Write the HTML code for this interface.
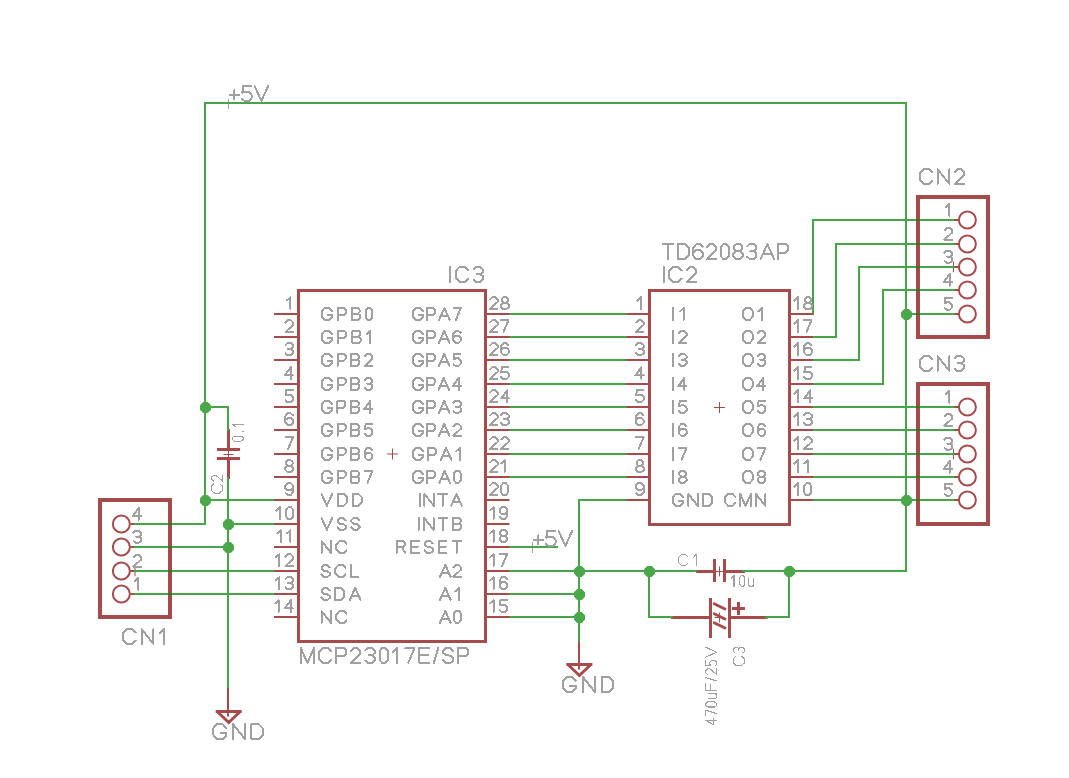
<!DOCTYPE html>
<html><head><meta charset="utf-8"><style>
html,body{margin:0;padding:0;background:#fff;overflow:hidden;}
svg{display:block;font-family:"Liberation Sans",sans-serif;}
</style></head><body>
<svg width="1069" height="778" viewBox="0 0 1069 778">
<rect width="1069" height="778" fill="#fff"/>
<rect x="298.5" y="290.5" width="187.0" height="351.0" fill="none" stroke="#a54b4b" stroke-width="3"/>
<rect x="649.5" y="290.5" width="140.0" height="234.0" fill="none" stroke="#a54b4b" stroke-width="3"/>
<path d="M387.0 454H398.0M392.5 448.5V459.5" stroke="#a54b4b" stroke-width="1" fill="none"/>
<path d="M714.0 407.5H725.0M719.5 402.0V413.0" stroke="#a54b4b" stroke-width="1" fill="none"/>
<rect x="100" y="500" width="70" height="117" fill="none" stroke="#a54b4b" stroke-width="4"/>
<circle cx="121.35" cy="524" r="8.5" fill="none" stroke="#a54b4b" stroke-width="2"/>
<rect x="130.5" y="523" width="4.5" height="2" fill="#a54b4b"/>
<circle cx="121.35" cy="547" r="8.5" fill="none" stroke="#a54b4b" stroke-width="2"/>
<rect x="130.5" y="546" width="4.5" height="2" fill="#a54b4b"/>
<circle cx="121.35" cy="571" r="8.5" fill="none" stroke="#a54b4b" stroke-width="2"/>
<rect x="130.5" y="570" width="4.5" height="2" fill="#a54b4b"/>
<circle cx="121.35" cy="594" r="8.5" fill="none" stroke="#a54b4b" stroke-width="2"/>
<rect x="130.5" y="593" width="4.5" height="2" fill="#a54b4b"/>
<rect x="918" y="197" width="70" height="140" fill="none" stroke="#a54b4b" stroke-width="4"/>
<circle cx="967.4" cy="220" r="8.5" fill="none" stroke="#a54b4b" stroke-width="2"/>
<rect x="953.5" y="219" width="5" height="2" fill="#a54b4b"/>
<circle cx="967.4" cy="244" r="8.5" fill="none" stroke="#a54b4b" stroke-width="2"/>
<rect x="953.5" y="243" width="5" height="2" fill="#a54b4b"/>
<circle cx="967.4" cy="267" r="8.5" fill="none" stroke="#a54b4b" stroke-width="2"/>
<rect x="953.5" y="266" width="5" height="2" fill="#a54b4b"/>
<circle cx="967.4" cy="290" r="8.5" fill="none" stroke="#a54b4b" stroke-width="2"/>
<rect x="953.5" y="289" width="5" height="2" fill="#a54b4b"/>
<circle cx="967.4" cy="314" r="8.5" fill="none" stroke="#a54b4b" stroke-width="2"/>
<rect x="953.5" y="313" width="5" height="2" fill="#a54b4b"/>
<rect x="918" y="384" width="70" height="140" fill="none" stroke="#a54b4b" stroke-width="4"/>
<circle cx="967.4" cy="407" r="8.5" fill="none" stroke="#a54b4b" stroke-width="2"/>
<rect x="953.5" y="406" width="5" height="2" fill="#a54b4b"/>
<circle cx="967.4" cy="430" r="8.5" fill="none" stroke="#a54b4b" stroke-width="2"/>
<rect x="953.5" y="429" width="5" height="2" fill="#a54b4b"/>
<circle cx="967.4" cy="454" r="8.5" fill="none" stroke="#a54b4b" stroke-width="2"/>
<rect x="953.5" y="453" width="5" height="2" fill="#a54b4b"/>
<circle cx="967.4" cy="477" r="8.5" fill="none" stroke="#a54b4b" stroke-width="2"/>
<rect x="953.5" y="476" width="5" height="2" fill="#a54b4b"/>
<circle cx="967.4" cy="500" r="8.5" fill="none" stroke="#a54b4b" stroke-width="2"/>
<rect x="953.5" y="499" width="5" height="2" fill="#a54b4b"/>
<path d="M129.75 571H140.25M135 565.75V576.25" stroke="#a54b4b" stroke-width="1" fill="none"/>
<path d="M948.25 267H958.75M953.5 261.75V272.25" stroke="#a54b4b" stroke-width="1" fill="none"/>
<path d="M948.25 454H958.75M953.5 448.75V459.25" stroke="#a54b4b" stroke-width="1" fill="none"/>
<rect x="227" y="429" width="3" height="19" fill="#a54b4b"/>
<rect x="227" y="459" width="3" height="20" fill="#a54b4b"/>
<rect x="217" y="448" width="23" height="3" fill="#a54b4b"/>
<rect x="217" y="457" width="23" height="3" fill="#a54b4b"/>
<path d="M223.5 454.5H233.5M228.5 449.5V459.5" stroke="#a54b4b" stroke-width="1" fill="none"/>
<rect x="696" y="570" width="18" height="3" fill="#a54b4b"/>
<rect x="725" y="570" width="20" height="3" fill="#a54b4b"/>
<rect x="713" y="559" width="3" height="23" fill="#a54b4b"/>
<rect x="723" y="559" width="3" height="23" fill="#a54b4b"/>
<path d="M714.5 571.5H724.5M719.5 566.5V576.5" stroke="#a54b4b" stroke-width="1" fill="none"/>
<rect x="671" y="616" width="39" height="3" fill="#a54b4b"/>
<rect x="729" y="616" width="38.5" height="3" fill="#a54b4b"/>
<rect x="709" y="598" width="3" height="40" fill="#a54b4b"/>
<rect x="728" y="598" width="3" height="40" fill="#a54b4b"/>
<line x1="714.2" y1="603.7" x2="725" y2="609" stroke="#a54b4b" stroke-width="2.8" stroke-linecap="round"/>
<line x1="714.2" y1="613.7" x2="725" y2="619" stroke="#a54b4b" stroke-width="2.8" stroke-linecap="round"/>
<line x1="714.2" y1="622.7" x2="725" y2="628" stroke="#a54b4b" stroke-width="2.8" stroke-linecap="round"/>
<rect x="732" y="607" width="13" height="3" fill="#a54b4b"/>
<rect x="737" y="602" width="3" height="13" fill="#a54b4b"/>
<path d="M714.5 617.5H724.5M719.5 612.5V622.5" stroke="#a54b4b" stroke-width="1" fill="none"/>
<rect x="227" y="687" width="2" height="29.5" fill="#a54b4b"/>
<rect x="215.7" y="710" width="26" height="3" fill="#a54b4b"/>
<path d="M217.2 711.5L228.7 722.5L240.2 711.5" fill="none" stroke="#a54b4b" stroke-width="3" stroke-linejoin="miter" stroke-linecap="butt"/>
<rect x="578" y="641" width="2" height="28.5" fill="#a54b4b"/>
<rect x="566.4" y="663" width="26" height="3" fill="#a54b4b"/>
<path d="M567.9 664.5L579.4 675.5L590.9 664.5" fill="none" stroke="#a54b4b" stroke-width="3" stroke-linejoin="miter" stroke-linecap="butt"/>
<path d="M224 103H234M228.5 99V109" stroke="#a0a0a0" stroke-width="1" fill="none"/>
<path d="M528 547H538M532.5 542V553" stroke="#a0a0a0" stroke-width="1" fill="none"/>
<rect x="134" y="523" width="72" height="2" fill="#48a448"/>
<rect x="204" y="102" width="2" height="423" fill="#48a448"/>
<rect x="204" y="102" width="703" height="2" fill="#48a448"/>
<rect x="905" y="102" width="2" height="470" fill="#48a448"/>
<rect x="788" y="570" width="119" height="2" fill="#48a448"/>
<rect x="204" y="406" width="25" height="2" fill="#48a448"/>
<rect x="227" y="406" width="2" height="25" fill="#48a448"/>
<rect x="204" y="499" width="72" height="2" fill="#48a448"/>
<rect x="227" y="477" width="2" height="211" fill="#48a448"/>
<rect x="227" y="523" width="49" height="2" fill="#48a448"/>
<rect x="134" y="546" width="95" height="2" fill="#48a448"/>
<rect x="134" y="570" width="142" height="2" fill="#48a448"/>
<rect x="134" y="593" width="142" height="2" fill="#48a448"/>
<rect x="508" y="313" width="119" height="2" fill="#48a448"/>
<rect x="508" y="336" width="119" height="2" fill="#48a448"/>
<rect x="508" y="359" width="119" height="2" fill="#48a448"/>
<rect x="508" y="383" width="119" height="2" fill="#48a448"/>
<rect x="508" y="406" width="119" height="2" fill="#48a448"/>
<rect x="508" y="429" width="119" height="2" fill="#48a448"/>
<rect x="508" y="453" width="119" height="2" fill="#48a448"/>
<rect x="508" y="476" width="119" height="2" fill="#48a448"/>
<rect x="812" y="219" width="2" height="96" fill="#48a448"/>
<rect x="812" y="219" width="142.5" height="2" fill="#48a448"/>
<rect x="812" y="336" width="25" height="2" fill="#48a448"/>
<rect x="835" y="243" width="2" height="95" fill="#48a448"/>
<rect x="835" y="243" width="119.5" height="2" fill="#48a448"/>
<rect x="812" y="359" width="48" height="2" fill="#48a448"/>
<rect x="858" y="266" width="2" height="95" fill="#48a448"/>
<rect x="858" y="266" width="96.5" height="2" fill="#48a448"/>
<rect x="812" y="383" width="72" height="2" fill="#48a448"/>
<rect x="882" y="289" width="2" height="96" fill="#48a448"/>
<rect x="882" y="289" width="72.5" height="2" fill="#48a448"/>
<rect x="905" y="313" width="49.5" height="2" fill="#48a448"/>
<rect x="812" y="406" width="142.5" height="2" fill="#48a448"/>
<rect x="812" y="429" width="142.5" height="2" fill="#48a448"/>
<rect x="812" y="453" width="142.5" height="2" fill="#48a448"/>
<rect x="812" y="476" width="142.5" height="2" fill="#48a448"/>
<rect x="812" y="499" width="142.5" height="2" fill="#48a448"/>
<rect x="578" y="499" width="49" height="2" fill="#48a448"/>
<rect x="578" y="499" width="2" height="143" fill="#48a448"/>
<rect x="508" y="570" width="189" height="2" fill="#48a448"/>
<rect x="508" y="593" width="72" height="2" fill="#48a448"/>
<rect x="508" y="616" width="72" height="2" fill="#48a448"/>
<rect x="742" y="570" width="48" height="2" fill="#48a448"/>
<rect x="508" y="546" width="50" height="2" fill="#48a448"/>
<rect x="648" y="570" width="2" height="48" fill="#48a448"/>
<rect x="648" y="616" width="25" height="2" fill="#48a448"/>
<rect x="765" y="616" width="25" height="2" fill="#48a448"/>
<rect x="788" y="570" width="2" height="48" fill="#48a448"/>
<rect x="274" y="313" width="24" height="2" fill="#a54b4b"/>
<rect x="486" y="313" width="23.5" height="2" fill="#a54b4b"/>
<rect x="274" y="336" width="24" height="2" fill="#a54b4b"/>
<rect x="486" y="336" width="23.5" height="2" fill="#a54b4b"/>
<rect x="274" y="359" width="24" height="2" fill="#a54b4b"/>
<rect x="486" y="359" width="23.5" height="2" fill="#a54b4b"/>
<rect x="274" y="383" width="24" height="2" fill="#a54b4b"/>
<rect x="486" y="383" width="23.5" height="2" fill="#a54b4b"/>
<rect x="274" y="406" width="24" height="2" fill="#a54b4b"/>
<rect x="486" y="406" width="23.5" height="2" fill="#a54b4b"/>
<rect x="274" y="429" width="24" height="2" fill="#a54b4b"/>
<rect x="486" y="429" width="23.5" height="2" fill="#a54b4b"/>
<rect x="274" y="453" width="24" height="2" fill="#a54b4b"/>
<rect x="486" y="453" width="23.5" height="2" fill="#a54b4b"/>
<rect x="274" y="476" width="24" height="2" fill="#a54b4b"/>
<rect x="486" y="476" width="23.5" height="2" fill="#a54b4b"/>
<rect x="274" y="499" width="24" height="2" fill="#a54b4b"/>
<rect x="486" y="499" width="23.5" height="2" fill="#a54b4b"/>
<rect x="274" y="523" width="24" height="2" fill="#a54b4b"/>
<rect x="486" y="523" width="23.5" height="2" fill="#a54b4b"/>
<rect x="274" y="546" width="24" height="2" fill="#a54b4b"/>
<rect x="486" y="546" width="23.5" height="2" fill="#a54b4b"/>
<rect x="274" y="570" width="24" height="2" fill="#a54b4b"/>
<rect x="486" y="570" width="23.5" height="2" fill="#a54b4b"/>
<rect x="274" y="593" width="24" height="2" fill="#a54b4b"/>
<rect x="486" y="593" width="23.5" height="2" fill="#a54b4b"/>
<rect x="274" y="616" width="24" height="2" fill="#a54b4b"/>
<rect x="486" y="616" width="23.5" height="2" fill="#a54b4b"/>
<rect x="626.5" y="313" width="22.5" height="2" fill="#a54b4b"/>
<rect x="790" y="313" width="23" height="2" fill="#a54b4b"/>
<rect x="626.5" y="336" width="22.5" height="2" fill="#a54b4b"/>
<rect x="790" y="336" width="23" height="2" fill="#a54b4b"/>
<rect x="626.5" y="359" width="22.5" height="2" fill="#a54b4b"/>
<rect x="790" y="359" width="23" height="2" fill="#a54b4b"/>
<rect x="626.5" y="383" width="22.5" height="2" fill="#a54b4b"/>
<rect x="790" y="383" width="23" height="2" fill="#a54b4b"/>
<rect x="626.5" y="406" width="22.5" height="2" fill="#a54b4b"/>
<rect x="790" y="406" width="23" height="2" fill="#a54b4b"/>
<rect x="626.5" y="429" width="22.5" height="2" fill="#a54b4b"/>
<rect x="790" y="429" width="23" height="2" fill="#a54b4b"/>
<rect x="626.5" y="453" width="22.5" height="2" fill="#a54b4b"/>
<rect x="790" y="453" width="23" height="2" fill="#a54b4b"/>
<rect x="626.5" y="476" width="22.5" height="2" fill="#a54b4b"/>
<rect x="790" y="476" width="23" height="2" fill="#a54b4b"/>
<rect x="626.5" y="499" width="22.5" height="2" fill="#a54b4b"/>
<rect x="790" y="499" width="23" height="2" fill="#a54b4b"/>
<rect x="168" y="523" width="4" height="2" fill="#2f7a24"/>
<rect x="168" y="546" width="4" height="2" fill="#2f7a24"/>
<rect x="168" y="570" width="4" height="2" fill="#2f7a24"/>
<rect x="168" y="593" width="4" height="2" fill="#2f7a24"/>
<rect x="916" y="219" width="4" height="2" fill="#2f7a24"/>
<rect x="916" y="243" width="4" height="2" fill="#2f7a24"/>
<rect x="916" y="266" width="4" height="2" fill="#2f7a24"/>
<rect x="916" y="289" width="4" height="2" fill="#2f7a24"/>
<rect x="916" y="313" width="4" height="2" fill="#2f7a24"/>
<rect x="916" y="406" width="4" height="2" fill="#2f7a24"/>
<rect x="916" y="429" width="4" height="2" fill="#2f7a24"/>
<rect x="916" y="453" width="4" height="2" fill="#2f7a24"/>
<rect x="916" y="476" width="4" height="2" fill="#2f7a24"/>
<rect x="916" y="499" width="4" height="2" fill="#2f7a24"/>
<polygon points="207.78,402.00 211.00,405.22 211.00,409.78 207.78,413.00 203.22,413.00 200.00,409.78 200.00,405.22 203.22,402.00" fill="#4aa84a"/>
<polygon points="207.78,495.00 211.00,498.22 211.00,502.78 207.78,506.00 203.22,506.00 200.00,502.78 200.00,498.22 203.22,495.00" fill="#4aa84a"/>
<polygon points="230.78,519.00 234.00,522.22 234.00,526.78 230.78,530.00 226.22,530.00 223.00,526.78 223.00,522.22 226.22,519.00" fill="#4aa84a"/>
<polygon points="230.78,542.00 234.00,545.22 234.00,549.78 230.78,553.00 226.22,553.00 223.00,549.78 223.00,545.22 226.22,542.00" fill="#4aa84a"/>
<polygon points="908.78,309.00 912.00,312.22 912.00,316.78 908.78,320.00 904.22,320.00 901.00,316.78 901.00,312.22 904.22,309.00" fill="#4aa84a"/>
<polygon points="908.78,495.00 912.00,498.22 912.00,502.78 908.78,506.00 904.22,506.00 901.00,502.78 901.00,498.22 904.22,495.00" fill="#4aa84a"/>
<polygon points="581.78,566.00 585.00,569.22 585.00,573.78 581.78,577.00 577.22,577.00 574.00,573.78 574.00,569.22 577.22,566.00" fill="#4aa84a"/>
<polygon points="581.78,589.00 585.00,592.22 585.00,596.78 581.78,600.00 577.22,600.00 574.00,596.78 574.00,592.22 577.22,589.00" fill="#4aa84a"/>
<polygon points="581.78,612.00 585.00,615.22 585.00,619.78 581.78,623.00 577.22,623.00 574.00,619.78 574.00,615.22 577.22,612.00" fill="#4aa84a"/>
<polygon points="651.78,566.00 655.00,569.22 655.00,573.78 651.78,577.00 647.22,577.00 644.00,573.78 644.00,569.22 647.22,566.00" fill="#4aa84a"/>
<polygon points="791.78,566.00 795.00,569.22 795.00,573.78 791.78,577.00 787.22,577.00 784.00,573.78 784.00,569.22 787.22,566.00" fill="#4aa84a"/>
<path d="M331.88 310.95 L329.17 308.00 L324.45 308.00 L321.50 311.30 L321.50 316.50 L324.45 319.80 L329.17 319.80 L332.12 316.85 L332.12 314.84 L327.40 314.84M337.92 319.80 L337.92 308.00 L344.05 308.00 L345.94 309.89 L345.94 312.72 L344.05 314.73 L337.92 314.73M351.74 319.80 L351.74 308.00 L357.87 308.00 L359.52 309.65 L359.52 312.01 L357.87 313.55 L351.74 313.55M357.87 313.55 L359.76 315.08 L359.76 318.15 L358.11 319.80 L351.74 319.80M367.68 319.80 L370.28 319.80 L372.40 317.44 L372.40 310.36 L370.28 308.00 L367.68 308.00 L365.56 310.36 L365.56 317.44 L367.68 319.80" fill="none" stroke="#a0a0a0" stroke-width="2.0" stroke-linecap="round" stroke-linejoin="round" shape-rendering="crispEdges"/>
<path d="M422.98 310.95 L420.27 308.00 L415.55 308.00 L412.60 311.30 L412.60 316.50 L415.55 319.80 L420.27 319.80 L423.22 316.85 L423.22 314.84 L418.50 314.84M427.13 319.80 L427.13 308.00 L433.26 308.00 L435.15 309.89 L435.15 312.72 L433.26 314.73 L427.13 314.73M439.06 319.80 L444.37 308.00 L449.68 319.80M440.95 315.91 L447.79 315.91M453.58 308.00 L460.90 308.00 L455.94 319.80" fill="none" stroke="#a0a0a0" stroke-width="2.0" stroke-linecap="round" stroke-linejoin="round" shape-rendering="crispEdges"/>
<path d="M286.86 300.50 L290.40 297.20 L290.40 309.00" fill="none" stroke="#a0a0a0" stroke-width="2.0" stroke-linecap="round" stroke-linejoin="round" shape-rendering="crispEdges"/>
<path d="M490.00 299.56 L492.36 297.20 L495.19 297.20 L497.55 299.56 L497.55 301.92 L490.00 309.00 L497.55 309.00M503.45 302.75 L501.56 301.21 L501.56 298.85 L503.45 297.20 L506.28 297.20 L508.17 298.85 L508.17 301.21 L506.28 302.75 L503.45 302.75 L501.09 304.75 L501.09 307.11 L503.22 309.00 L506.52 309.00 L508.64 307.11 L508.64 304.75 L506.28 302.75" fill="none" stroke="#a0a0a0" stroke-width="2.0" stroke-linecap="round" stroke-linejoin="round" shape-rendering="crispEdges"/>
<path d="M331.88 333.95 L329.17 331.00 L324.45 331.00 L321.50 334.30 L321.50 339.50 L324.45 342.80 L329.17 342.80 L332.12 339.85 L332.12 337.84 L327.40 337.84M338.28 342.80 L338.28 331.00 L344.42 331.00 L346.31 332.89 L346.31 335.72 L344.42 337.73 L338.28 337.73M352.47 342.80 L352.47 331.00 L358.61 331.00 L360.26 332.65 L360.26 335.01 L358.61 336.55 L352.47 336.55M358.61 336.55 L360.50 338.08 L360.50 341.15 L358.84 342.80 L352.47 342.80M366.66 334.30 L370.20 331.00 L370.20 342.80" fill="none" stroke="#a0a0a0" stroke-width="2.0" stroke-linecap="round" stroke-linejoin="round" shape-rendering="crispEdges"/>
<path d="M422.98 333.95 L420.27 331.00 L415.55 331.00 L412.60 334.30 L412.60 339.50 L415.55 342.80 L420.27 342.80 L423.22 339.85 L423.22 337.84 L418.50 337.84M427.05 342.80 L427.05 331.00 L433.18 331.00 L435.07 332.89 L435.07 335.72 L433.18 337.73 L427.05 337.73M438.90 342.80 L444.21 331.00 L449.52 342.80M440.79 338.91 L447.63 338.91M460.66 332.89 L458.54 331.00 L455.71 331.00 L453.35 333.83 L453.35 340.44 L455.71 342.80 L458.78 342.80 L460.90 340.68 L460.90 337.84 L458.78 335.72 L455.71 335.72 L453.35 337.84" fill="none" stroke="#a0a0a0" stroke-width="2.0" stroke-linecap="round" stroke-linejoin="round" shape-rendering="crispEdges"/>
<path d="M285.45 322.56 L287.81 320.20 L290.64 320.20 L293.00 322.56 L293.00 324.92 L285.45 332.00 L293.00 332.00" fill="none" stroke="#a0a0a0" stroke-width="2.0" stroke-linecap="round" stroke-linejoin="round" shape-rendering="crispEdges"/>
<path d="M490.00 322.56 L492.36 320.20 L495.19 320.20 L497.55 322.56 L497.55 324.92 L490.00 332.00 L497.55 332.00M501.09 320.20 L508.41 320.20 L503.45 332.00" fill="none" stroke="#a0a0a0" stroke-width="2.0" stroke-linecap="round" stroke-linejoin="round" shape-rendering="crispEdges"/>
<path d="M331.88 356.95 L329.17 354.00 L324.45 354.00 L321.50 357.30 L321.50 362.50 L324.45 365.80 L329.17 365.80 L332.12 362.85 L332.12 360.84 L327.40 360.84M337.68 365.80 L337.68 354.00 L343.82 354.00 L345.70 355.89 L345.70 358.72 L343.82 360.73 L337.68 360.73M351.26 365.80 L351.26 354.00 L357.40 354.00 L359.05 355.65 L359.05 358.01 L357.40 359.55 L351.26 359.55M357.40 359.55 L359.29 361.08 L359.29 364.15 L357.64 365.80 L351.26 365.80M364.85 356.36 L367.21 354.00 L370.04 354.00 L372.40 356.36 L372.40 358.72 L364.85 365.80 L372.40 365.80" fill="none" stroke="#a0a0a0" stroke-width="2.0" stroke-linecap="round" stroke-linejoin="round" shape-rendering="crispEdges"/>
<path d="M422.98 356.95 L420.27 354.00 L415.55 354.00 L412.60 357.30 L412.60 362.50 L415.55 365.80 L420.27 365.80 L423.22 362.85 L423.22 360.84 L418.50 360.84M427.05 365.80 L427.05 354.00 L433.18 354.00 L435.07 355.89 L435.07 358.72 L433.18 360.73 L427.05 360.73M438.90 365.80 L444.21 354.00 L449.52 365.80M440.79 361.91 L447.63 361.91M460.66 354.00 L454.06 354.00 L453.58 359.19 L455.71 358.48 L458.54 358.48 L460.90 360.61 L460.90 363.68 L458.78 365.80 L455.24 365.80 L453.35 364.03" fill="none" stroke="#a0a0a0" stroke-width="2.0" stroke-linecap="round" stroke-linejoin="round" shape-rendering="crispEdges"/>
<path d="M285.45 344.97 L287.34 343.20 L290.88 343.20 L293.00 345.09 L293.00 347.21 L290.88 348.86 L288.04 348.86M290.88 348.86 L293.00 350.52 L293.00 353.11 L290.88 355.00 L287.34 355.00 L285.45 353.23" fill="none" stroke="#a0a0a0" stroke-width="2.0" stroke-linecap="round" stroke-linejoin="round" shape-rendering="crispEdges"/>
<path d="M490.00 345.56 L492.36 343.20 L495.19 343.20 L497.55 345.56 L497.55 347.92 L490.00 355.00 L497.55 355.00M508.41 345.09 L506.28 343.20 L503.45 343.20 L501.09 346.03 L501.09 352.64 L503.45 355.00 L506.52 355.00 L508.64 352.88 L508.64 350.04 L506.52 347.92 L503.45 347.92 L501.09 350.04" fill="none" stroke="#a0a0a0" stroke-width="2.0" stroke-linecap="round" stroke-linejoin="round" shape-rendering="crispEdges"/>
<path d="M331.88 380.95 L329.17 378.00 L324.45 378.00 L321.50 381.30 L321.50 386.50 L324.45 389.80 L329.17 389.80 L332.12 386.85 L332.12 384.84 L327.40 384.84M337.68 389.80 L337.68 378.00 L343.82 378.00 L345.70 379.89 L345.70 382.72 L343.82 384.73 L337.68 384.73M351.26 389.80 L351.26 378.00 L357.40 378.00 L359.05 379.65 L359.05 382.01 L357.40 383.55 L351.26 383.55M357.40 383.55 L359.29 385.08 L359.29 388.15 L357.64 389.80 L351.26 389.80M364.85 379.77 L366.74 378.00 L370.28 378.00 L372.40 379.89 L372.40 382.01 L370.28 383.66 L367.44 383.66M370.28 383.66 L372.40 385.32 L372.40 387.91 L370.28 389.80 L366.74 389.80 L364.85 388.03" fill="none" stroke="#a0a0a0" stroke-width="2.0" stroke-linecap="round" stroke-linejoin="round" shape-rendering="crispEdges"/>
<path d="M422.98 380.95 L420.27 378.00 L415.55 378.00 L412.60 381.30 L412.60 386.50 L415.55 389.80 L420.27 389.80 L423.22 386.85 L423.22 384.84 L418.50 384.84M426.81 389.80 L426.81 378.00 L432.95 378.00 L434.84 379.89 L434.84 382.72 L432.95 384.73 L426.81 384.73M438.43 389.80 L443.74 378.00 L449.05 389.80M440.32 385.91 L447.16 385.91M458.78 389.80 L458.78 378.00 L452.64 386.26 L460.90 386.26" fill="none" stroke="#a0a0a0" stroke-width="2.0" stroke-linecap="round" stroke-linejoin="round" shape-rendering="crispEdges"/>
<path d="M290.88 379.00 L290.88 367.20 L284.74 375.46 L293.00 375.46" fill="none" stroke="#a0a0a0" stroke-width="2.0" stroke-linecap="round" stroke-linejoin="round" shape-rendering="crispEdges"/>
<path d="M490.00 369.56 L492.36 367.20 L495.19 367.20 L497.55 369.56 L497.55 371.92 L490.00 379.00 L497.55 379.00M508.41 367.20 L501.80 367.20 L501.33 372.39 L503.45 371.68 L506.28 371.68 L508.64 373.81 L508.64 376.88 L506.52 379.00 L502.98 379.00 L501.09 377.23" fill="none" stroke="#a0a0a0" stroke-width="2.0" stroke-linecap="round" stroke-linejoin="round" shape-rendering="crispEdges"/>
<path d="M331.88 403.95 L329.17 401.00 L324.45 401.00 L321.50 404.30 L321.50 409.50 L324.45 412.80 L329.17 412.80 L332.12 409.85 L332.12 407.84 L327.40 407.84M337.44 412.80 L337.44 401.00 L343.58 401.00 L345.47 402.89 L345.47 405.72 L343.58 407.73 L337.44 407.73M350.79 412.80 L350.79 401.00 L356.93 401.00 L358.58 402.65 L358.58 405.01 L356.93 406.55 L350.79 406.55M356.93 406.55 L358.82 408.08 L358.82 411.15 L357.16 412.80 L350.79 412.80M370.28 412.80 L370.28 401.00 L364.14 409.26 L372.40 409.26" fill="none" stroke="#a0a0a0" stroke-width="2.0" stroke-linecap="round" stroke-linejoin="round" shape-rendering="crispEdges"/>
<path d="M422.98 403.95 L420.27 401.00 L415.55 401.00 L412.60 404.30 L412.60 409.50 L415.55 412.80 L420.27 412.80 L423.22 409.85 L423.22 407.84 L418.50 407.84M427.05 412.80 L427.05 401.00 L433.18 401.00 L435.07 402.89 L435.07 405.72 L433.18 407.73 L427.05 407.73M438.90 412.80 L444.21 401.00 L449.52 412.80M440.79 408.91 L447.63 408.91M453.35 402.77 L455.24 401.00 L458.78 401.00 L460.90 402.89 L460.90 405.01 L458.78 406.66 L455.94 406.66M458.78 406.66 L460.90 408.32 L460.90 410.91 L458.78 412.80 L455.24 412.80 L453.35 411.03" fill="none" stroke="#a0a0a0" stroke-width="2.0" stroke-linecap="round" stroke-linejoin="round" shape-rendering="crispEdges"/>
<path d="M292.76 390.20 L286.16 390.20 L285.68 395.39 L287.81 394.68 L290.64 394.68 L293.00 396.81 L293.00 399.88 L290.88 402.00 L287.34 402.00 L285.45 400.23" fill="none" stroke="#a0a0a0" stroke-width="2.0" stroke-linecap="round" stroke-linejoin="round" shape-rendering="crispEdges"/>
<path d="M490.00 392.56 L492.36 390.20 L495.19 390.20 L497.55 392.56 L497.55 394.92 L490.00 402.00 L497.55 402.00M507.23 402.00 L507.23 390.20 L501.09 398.46 L509.35 398.46" fill="none" stroke="#a0a0a0" stroke-width="2.0" stroke-linecap="round" stroke-linejoin="round" shape-rendering="crispEdges"/>
<path d="M331.88 426.95 L329.17 424.00 L324.45 424.00 L321.50 427.30 L321.50 432.50 L324.45 435.80 L329.17 435.80 L332.12 432.85 L332.12 430.84 L327.40 430.84M337.68 435.80 L337.68 424.00 L343.82 424.00 L345.70 425.89 L345.70 428.72 L343.82 430.73 L337.68 430.73M351.26 435.80 L351.26 424.00 L357.40 424.00 L359.05 425.65 L359.05 428.01 L357.40 429.55 L351.26 429.55M357.40 429.55 L359.29 431.08 L359.29 434.15 L357.64 435.80 L351.26 435.80M372.16 424.00 L365.56 424.00 L365.08 429.19 L367.21 428.48 L370.04 428.48 L372.40 430.61 L372.40 433.68 L370.28 435.80 L366.74 435.80 L364.85 434.03" fill="none" stroke="#a0a0a0" stroke-width="2.0" stroke-linecap="round" stroke-linejoin="round" shape-rendering="crispEdges"/>
<path d="M422.98 426.95 L420.27 424.00 L415.55 424.00 L412.60 427.30 L412.60 432.50 L415.55 435.80 L420.27 435.80 L423.22 432.85 L423.22 430.84 L418.50 430.84M427.05 435.80 L427.05 424.00 L433.18 424.00 L435.07 425.89 L435.07 428.72 L433.18 430.73 L427.05 430.73M438.90 435.80 L444.21 424.00 L449.52 435.80M440.79 431.91 L447.63 431.91M453.35 426.36 L455.71 424.00 L458.54 424.00 L460.90 426.36 L460.90 428.72 L453.35 435.80 L460.90 435.80" fill="none" stroke="#a0a0a0" stroke-width="2.0" stroke-linecap="round" stroke-linejoin="round" shape-rendering="crispEdges"/>
<path d="M292.76 415.09 L290.64 413.20 L287.81 413.20 L285.45 416.03 L285.45 422.64 L287.81 425.00 L290.88 425.00 L293.00 422.88 L293.00 420.04 L290.88 417.92 L287.81 417.92 L285.45 420.04" fill="none" stroke="#a0a0a0" stroke-width="2.0" stroke-linecap="round" stroke-linejoin="round" shape-rendering="crispEdges"/>
<path d="M490.00 415.56 L492.36 413.20 L495.19 413.20 L497.55 415.56 L497.55 417.92 L490.00 425.00 L497.55 425.00M501.09 414.97 L502.98 413.20 L506.52 413.20 L508.64 415.09 L508.64 417.21 L506.52 418.86 L503.69 418.86M506.52 418.86 L508.64 420.52 L508.64 423.11 L506.52 425.00 L502.98 425.00 L501.09 423.23" fill="none" stroke="#a0a0a0" stroke-width="2.0" stroke-linecap="round" stroke-linejoin="round" shape-rendering="crispEdges"/>
<path d="M331.88 450.95 L329.17 448.00 L324.45 448.00 L321.50 451.30 L321.50 456.50 L324.45 459.80 L329.17 459.80 L332.12 456.85 L332.12 454.84 L327.40 454.84M337.68 459.80 L337.68 448.00 L343.82 448.00 L345.70 449.89 L345.70 452.72 L343.82 454.73 L337.68 454.73M351.26 459.80 L351.26 448.00 L357.40 448.00 L359.05 449.65 L359.05 452.01 L357.40 453.55 L351.26 453.55M357.40 453.55 L359.29 455.08 L359.29 458.15 L357.64 459.80 L351.26 459.80M372.16 449.89 L370.04 448.00 L367.21 448.00 L364.85 450.83 L364.85 457.44 L367.21 459.80 L370.28 459.80 L372.40 457.68 L372.40 454.84 L370.28 452.72 L367.21 452.72 L364.85 454.84" fill="none" stroke="#a0a0a0" stroke-width="2.0" stroke-linecap="round" stroke-linejoin="round" shape-rendering="crispEdges"/>
<path d="M422.98 450.95 L420.27 448.00 L415.55 448.00 L412.60 451.30 L412.60 456.50 L415.55 459.80 L420.27 459.80 L423.22 456.85 L423.22 454.84 L418.50 454.84M428.02 459.80 L428.02 448.00 L434.15 448.00 L436.04 449.89 L436.04 452.72 L434.15 454.73 L428.02 454.73M440.84 459.80 L446.15 448.00 L451.46 459.80M442.73 455.91 L449.57 455.91M456.26 451.30 L459.80 448.00 L459.80 459.80" fill="none" stroke="#a0a0a0" stroke-width="2.0" stroke-linecap="round" stroke-linejoin="round" shape-rendering="crispEdges"/>
<path d="M285.68 437.20 L293.00 437.20 L288.04 449.00" fill="none" stroke="#a0a0a0" stroke-width="2.0" stroke-linecap="round" stroke-linejoin="round" shape-rendering="crispEdges"/>
<path d="M490.00 439.56 L492.36 437.20 L495.19 437.20 L497.55 439.56 L497.55 441.92 L490.00 449.00 L497.55 449.00M501.09 439.56 L503.45 437.20 L506.28 437.20 L508.64 439.56 L508.64 441.92 L501.09 449.00 L508.64 449.00" fill="none" stroke="#a0a0a0" stroke-width="2.0" stroke-linecap="round" stroke-linejoin="round" shape-rendering="crispEdges"/>
<path d="M331.88 473.95 L329.17 471.00 L324.45 471.00 L321.50 474.30 L321.50 479.50 L324.45 482.80 L329.17 482.80 L332.12 479.85 L332.12 477.84 L327.40 477.84M337.76 482.80 L337.76 471.00 L343.89 471.00 L345.78 472.89 L345.78 475.72 L343.89 477.73 L337.76 477.73M351.42 482.80 L351.42 471.00 L357.56 471.00 L359.21 472.65 L359.21 475.01 L357.56 476.55 L351.42 476.55M357.56 476.55 L359.45 478.08 L359.45 481.15 L357.79 482.80 L351.42 482.80M365.08 471.00 L372.40 471.00 L367.44 482.80" fill="none" stroke="#a0a0a0" stroke-width="2.0" stroke-linecap="round" stroke-linejoin="round" shape-rendering="crispEdges"/>
<path d="M422.98 473.95 L420.27 471.00 L415.55 471.00 L412.60 474.30 L412.60 479.50 L415.55 482.80 L420.27 482.80 L423.22 479.85 L423.22 477.84 L418.50 477.84M427.28 482.80 L427.28 471.00 L433.42 471.00 L435.31 472.89 L435.31 475.72 L433.42 477.73 L427.28 477.73M439.37 482.80 L444.68 471.00 L449.99 482.80M441.26 478.91 L448.10 478.91M456.18 482.80 L458.78 482.80 L460.90 480.44 L460.90 473.36 L458.78 471.00 L456.18 471.00 L454.06 473.36 L454.06 480.44 L456.18 482.80" fill="none" stroke="#a0a0a0" stroke-width="2.0" stroke-linecap="round" stroke-linejoin="round" shape-rendering="crispEdges"/>
<path d="M287.81 465.75 L285.92 464.21 L285.92 461.85 L287.81 460.20 L290.64 460.20 L292.53 461.85 L292.53 464.21 L290.64 465.75 L287.81 465.75 L285.45 467.75 L285.45 470.11 L287.57 472.00 L290.88 472.00 L293.00 470.11 L293.00 467.75 L290.64 465.75" fill="none" stroke="#a0a0a0" stroke-width="2.0" stroke-linecap="round" stroke-linejoin="round" shape-rendering="crispEdges"/>
<path d="M490.00 462.56 L492.36 460.20 L495.19 460.20 L497.55 462.56 L497.55 464.92 L490.00 472.00 L497.55 472.00M501.09 463.50 L504.63 460.20 L504.63 472.00" fill="none" stroke="#a0a0a0" stroke-width="2.0" stroke-linecap="round" stroke-linejoin="round" shape-rendering="crispEdges"/>
<path d="M321.50 494.00 L326.81 505.80 L332.12 494.00M337.76 505.80 L337.76 494.00 L343.66 494.00 L346.96 497.30 L346.96 502.50 L343.66 505.80 L337.76 505.80M352.60 505.80 L352.60 494.00 L358.50 494.00 L361.80 497.30 L361.80 502.50 L358.50 505.80 L352.60 505.80" fill="none" stroke="#a0a0a0" stroke-width="2.0" stroke-linecap="round" stroke-linejoin="round" shape-rendering="crispEdges"/>
<path d="M420.00 505.80 L420.00 494.00M424.41 505.80 L424.41 494.00 L433.85 505.80 L433.85 494.00M438.27 494.00 L446.77 494.00M442.52 494.00 L442.52 505.80M451.18 505.80 L456.49 494.00 L461.80 505.80M453.07 501.91 L459.91 501.91" fill="none" stroke="#a0a0a0" stroke-width="2.0" stroke-linecap="round" stroke-linejoin="round" shape-rendering="crispEdges"/>
<path d="M285.68 493.11 L287.81 495.00 L290.64 495.00 L293.00 492.17 L293.00 485.56 L290.64 483.20 L287.57 483.20 L285.45 485.32 L285.45 488.16 L287.57 490.28 L290.64 490.28 L293.00 488.16" fill="none" stroke="#a0a0a0" stroke-width="2.0" stroke-linecap="round" stroke-linejoin="round" shape-rendering="crispEdges"/>
<path d="M490.00 485.56 L492.36 483.20 L495.19 483.20 L497.55 485.56 L497.55 487.92 L490.00 495.00 L497.55 495.00M503.22 495.00 L505.81 495.00 L507.94 492.64 L507.94 485.56 L505.81 483.20 L503.22 483.20 L501.09 485.56 L501.09 492.64 L503.22 495.00" fill="none" stroke="#a0a0a0" stroke-width="2.0" stroke-linecap="round" stroke-linejoin="round" shape-rendering="crispEdges"/>
<path d="M321.50 518.00 L326.81 529.80 L332.12 518.00M345.57 520.36 L343.45 518.00 L339.91 518.00 L337.79 520.12 L337.79 522.01 L339.91 523.66 L343.45 524.14 L345.81 526.02 L345.81 527.91 L343.69 529.80 L339.67 529.80 L337.55 527.44M359.26 520.36 L357.14 518.00 L353.60 518.00 L351.48 520.12 L351.48 522.01 L353.60 523.66 L357.14 524.14 L359.50 526.02 L359.50 527.91 L357.38 529.80 L353.36 529.80 L351.24 527.44" fill="none" stroke="#a0a0a0" stroke-width="2.0" stroke-linecap="round" stroke-linejoin="round" shape-rendering="crispEdges"/>
<path d="M418.70 529.80 L418.70 518.00M424.11 529.80 L424.11 518.00 L433.55 529.80 L433.55 518.00M438.97 518.00 L447.46 518.00M443.21 518.00 L443.21 529.80M452.88 529.80 L452.88 518.00 L459.01 518.00 L460.66 519.65 L460.66 522.01 L459.01 523.55 L452.88 523.55M459.01 523.55 L460.90 525.08 L460.90 528.15 L459.25 529.80 L452.88 529.80" fill="none" stroke="#a0a0a0" stroke-width="2.0" stroke-linecap="round" stroke-linejoin="round" shape-rendering="crispEdges"/>
<path d="M276.48 510.50 L280.02 507.20 L280.02 519.00M288.28 519.00 L290.88 519.00 L293.00 516.64 L293.00 509.56 L290.88 507.20 L288.28 507.20 L286.16 509.56 L286.16 516.64 L288.28 519.00" fill="none" stroke="#a0a0a0" stroke-width="2.0" stroke-linecap="round" stroke-linejoin="round" shape-rendering="crispEdges"/>
<path d="M490.00 510.50 L493.54 507.20 L493.54 519.00M499.91 517.11 L502.04 519.00 L504.87 519.00 L507.23 516.17 L507.23 509.56 L504.87 507.20 L501.80 507.20 L499.68 509.32 L499.68 512.16 L501.80 514.28 L504.87 514.28 L507.23 512.16" fill="none" stroke="#a0a0a0" stroke-width="2.0" stroke-linecap="round" stroke-linejoin="round" shape-rendering="crispEdges"/>
<path d="M321.50 552.80 L321.50 541.00 L330.94 552.80 L330.94 541.00M346.50 543.60 L344.02 541.00 L339.54 541.00 L336.47 544.30 L336.47 549.50 L339.54 552.80 L344.02 552.80 L346.50 550.20" fill="none" stroke="#a0a0a0" stroke-width="2.0" stroke-linecap="round" stroke-linejoin="round" shape-rendering="crispEdges"/>
<path d="M396.70 552.80 L396.70 541.00 L403.07 541.00 L404.96 542.89 L404.96 545.25 L403.07 547.14 L396.70 547.14M402.01 547.14 L405.20 552.80M418.83 541.00 L411.04 541.00 L411.04 552.80 L418.83 552.80M411.04 546.55 L418.12 546.55M432.69 543.36 L430.57 541.00 L427.03 541.00 L424.91 543.12 L424.91 545.01 L427.03 546.66 L430.57 547.14 L432.93 549.02 L432.93 550.91 L430.81 552.80 L426.79 552.80 L424.67 550.44M446.56 541.00 L438.77 541.00 L438.77 552.80 L446.56 552.80M438.77 546.55 L445.85 546.55M452.40 541.00 L460.90 541.00M456.65 541.00 L456.65 552.80" fill="none" stroke="#a0a0a0" stroke-width="2.0" stroke-linecap="round" stroke-linejoin="round" shape-rendering="crispEdges"/>
<path d="M277.19 533.50 L280.73 530.20 L280.73 542.00M286.86 533.50 L290.40 530.20 L290.40 542.00" fill="none" stroke="#a0a0a0" stroke-width="2.0" stroke-linecap="round" stroke-linejoin="round" shape-rendering="crispEdges"/>
<path d="M490.00 533.50 L493.54 530.20 L493.54 542.00M502.04 535.75 L500.15 534.21 L500.15 531.85 L502.04 530.20 L504.87 530.20 L506.76 531.85 L506.76 534.21 L504.87 535.75 L502.04 535.75 L499.68 537.75 L499.68 540.11 L501.80 542.00 L505.10 542.00 L507.23 540.11 L507.23 537.75 L504.87 535.75" fill="none" stroke="#a0a0a0" stroke-width="2.0" stroke-linecap="round" stroke-linejoin="round" shape-rendering="crispEdges"/>
<path d="M329.52 567.36 L327.40 565.00 L323.86 565.00 L321.74 567.12 L321.74 569.01 L323.86 570.66 L327.40 571.14 L329.76 573.02 L329.76 574.91 L327.64 576.80 L323.62 576.80 L321.50 574.44M345.40 567.60 L342.93 565.00 L338.44 565.00 L335.38 568.30 L335.38 573.50 L338.44 576.80 L342.93 576.80 L345.40 574.20M351.02 565.00 L351.02 576.80 L358.10 576.80" fill="none" stroke="#a0a0a0" stroke-width="2.0" stroke-linecap="round" stroke-linejoin="round" shape-rendering="crispEdges"/>
<path d="M440.00 576.80 L445.31 565.00 L450.62 576.80M441.89 572.91 L448.73 572.91M453.35 567.36 L455.71 565.00 L458.54 565.00 L460.90 567.36 L460.90 569.72 L453.35 576.80 L460.90 576.80" fill="none" stroke="#a0a0a0" stroke-width="2.0" stroke-linecap="round" stroke-linejoin="round" shape-rendering="crispEdges"/>
<path d="M275.77 557.50 L279.31 554.20 L279.31 566.00M285.45 556.56 L287.81 554.20 L290.64 554.20 L293.00 556.56 L293.00 558.92 L285.45 566.00 L293.00 566.00" fill="none" stroke="#a0a0a0" stroke-width="2.0" stroke-linecap="round" stroke-linejoin="round" shape-rendering="crispEdges"/>
<path d="M490.00 557.50 L493.54 554.20 L493.54 566.00M499.68 554.20 L506.99 554.20 L502.04 566.00" fill="none" stroke="#a0a0a0" stroke-width="2.0" stroke-linecap="round" stroke-linejoin="round" shape-rendering="crispEdges"/>
<path d="M329.52 590.36 L327.40 588.00 L323.86 588.00 L321.74 590.12 L321.74 592.01 L323.86 593.66 L327.40 594.14 L329.76 596.02 L329.76 597.91 L327.64 599.80 L323.62 599.80 L321.50 597.44M335.22 599.80 L335.22 588.00 L341.12 588.00 L344.42 591.30 L344.42 596.50 L341.12 599.80 L335.22 599.80M349.88 599.80 L355.19 588.00 L360.50 599.80M351.77 595.91 L358.61 595.91" fill="none" stroke="#a0a0a0" stroke-width="2.0" stroke-linecap="round" stroke-linejoin="round" shape-rendering="crispEdges"/>
<path d="M440.00 599.80 L445.31 588.00 L450.62 599.80M441.89 595.91 L448.73 595.91M455.46 591.30 L459.00 588.00 L459.00 599.80" fill="none" stroke="#a0a0a0" stroke-width="2.0" stroke-linecap="round" stroke-linejoin="round" shape-rendering="crispEdges"/>
<path d="M275.77 580.50 L279.31 577.20 L279.31 589.00M285.45 578.97 L287.34 577.20 L290.88 577.20 L293.00 579.09 L293.00 581.21 L290.88 582.86 L288.04 582.86M290.88 582.86 L293.00 584.52 L293.00 587.11 L290.88 589.00 L287.34 589.00 L285.45 587.23" fill="none" stroke="#a0a0a0" stroke-width="2.0" stroke-linecap="round" stroke-linejoin="round" shape-rendering="crispEdges"/>
<path d="M490.00 580.50 L493.54 577.20 L493.54 589.00M506.99 579.09 L504.87 577.20 L502.04 577.20 L499.68 580.03 L499.68 586.64 L502.04 589.00 L505.10 589.00 L507.23 586.88 L507.23 584.04 L505.10 581.92 L502.04 581.92 L499.68 584.04" fill="none" stroke="#a0a0a0" stroke-width="2.0" stroke-linecap="round" stroke-linejoin="round" shape-rendering="crispEdges"/>
<path d="M321.50 622.80 L321.50 611.00 L330.94 622.80 L330.94 611.00M346.50 613.60 L344.02 611.00 L339.54 611.00 L336.47 614.30 L336.47 619.50 L339.54 622.80 L344.02 622.80 L346.50 620.20" fill="none" stroke="#a0a0a0" stroke-width="2.0" stroke-linecap="round" stroke-linejoin="round" shape-rendering="crispEdges"/>
<path d="M440.00 622.80 L445.31 611.00 L450.62 622.80M441.89 618.91 L448.73 618.91M456.18 622.80 L458.78 622.80 L460.90 620.44 L460.90 613.36 L458.78 611.00 L456.18 611.00 L454.06 613.36 L454.06 620.44 L456.18 622.80" fill="none" stroke="#a0a0a0" stroke-width="2.0" stroke-linecap="round" stroke-linejoin="round" shape-rendering="crispEdges"/>
<path d="M275.06 603.50 L278.60 600.20 L278.60 612.00M290.88 612.00 L290.88 600.20 L284.74 608.46 L293.00 608.46" fill="none" stroke="#a0a0a0" stroke-width="2.0" stroke-linecap="round" stroke-linejoin="round" shape-rendering="crispEdges"/>
<path d="M490.00 603.50 L493.54 600.20 L493.54 612.00M506.99 600.20 L500.38 600.20 L499.91 605.39 L502.04 604.68 L504.87 604.68 L507.23 606.81 L507.23 609.88 L505.10 612.00 L501.56 612.00 L499.68 610.23" fill="none" stroke="#a0a0a0" stroke-width="2.0" stroke-linecap="round" stroke-linejoin="round" shape-rendering="crispEdges"/>
<path d="M673.00 319.80 L673.00 308.00M680.16 311.30 L683.70 308.00 L683.70 319.80" fill="none" stroke="#a0a0a0" stroke-width="2.0" stroke-linecap="round" stroke-linejoin="round" shape-rendering="crispEdges"/>
<path d="M745.75 319.80 L749.88 319.80 L752.83 316.50 L752.83 311.30 L749.88 308.00 L745.75 308.00 L742.80 311.30 L742.80 316.50 L745.75 319.80M758.46 311.30 L762.00 308.00 L762.00 319.80" fill="none" stroke="#a0a0a0" stroke-width="2.0" stroke-linecap="round" stroke-linejoin="round" shape-rendering="crispEdges"/>
<path d="M673.00 342.80 L673.00 331.00M678.95 333.36 L681.31 331.00 L684.14 331.00 L686.50 333.36 L686.50 335.72 L678.95 342.80 L686.50 342.80" fill="none" stroke="#a0a0a0" stroke-width="2.0" stroke-linecap="round" stroke-linejoin="round" shape-rendering="crispEdges"/>
<path d="M745.75 342.80 L749.88 342.80 L752.83 339.50 L752.83 334.30 L749.88 331.00 L745.75 331.00 L742.80 334.30 L742.80 339.50 L745.75 342.80M757.85 333.36 L760.21 331.00 L763.04 331.00 L765.40 333.36 L765.40 335.72 L757.85 342.80 L765.40 342.80" fill="none" stroke="#a0a0a0" stroke-width="2.0" stroke-linecap="round" stroke-linejoin="round" shape-rendering="crispEdges"/>
<path d="M673.00 365.80 L673.00 354.00M678.95 355.77 L680.84 354.00 L684.38 354.00 L686.50 355.89 L686.50 358.01 L684.38 359.66 L681.54 359.66M684.38 359.66 L686.50 361.32 L686.50 363.91 L684.38 365.80 L680.84 365.80 L678.95 364.03" fill="none" stroke="#a0a0a0" stroke-width="2.0" stroke-linecap="round" stroke-linejoin="round" shape-rendering="crispEdges"/>
<path d="M745.75 365.80 L749.88 365.80 L752.83 362.50 L752.83 357.30 L749.88 354.00 L745.75 354.00 L742.80 357.30 L742.80 362.50 L745.75 365.80M757.85 355.77 L759.74 354.00 L763.28 354.00 L765.40 355.89 L765.40 358.01 L763.28 359.66 L760.44 359.66M763.28 359.66 L765.40 361.32 L765.40 363.91 L763.28 365.80 L759.74 365.80 L757.85 364.03" fill="none" stroke="#a0a0a0" stroke-width="2.0" stroke-linecap="round" stroke-linejoin="round" shape-rendering="crispEdges"/>
<path d="M673.00 389.80 L673.00 378.00M684.38 389.80 L684.38 378.00 L678.24 386.26 L686.50 386.26" fill="none" stroke="#a0a0a0" stroke-width="2.0" stroke-linecap="round" stroke-linejoin="round" shape-rendering="crispEdges"/>
<path d="M745.75 389.80 L749.88 389.80 L752.83 386.50 L752.83 381.30 L749.88 378.00 L745.75 378.00 L742.80 381.30 L742.80 386.50 L745.75 389.80M763.28 389.80 L763.28 378.00 L757.14 386.26 L765.40 386.26" fill="none" stroke="#a0a0a0" stroke-width="2.0" stroke-linecap="round" stroke-linejoin="round" shape-rendering="crispEdges"/>
<path d="M673.00 412.80 L673.00 401.00M686.26 401.00 L679.66 401.00 L679.18 406.19 L681.31 405.48 L684.14 405.48 L686.50 407.61 L686.50 410.68 L684.38 412.80 L680.84 412.80 L678.95 411.03" fill="none" stroke="#a0a0a0" stroke-width="2.0" stroke-linecap="round" stroke-linejoin="round" shape-rendering="crispEdges"/>
<path d="M745.75 412.80 L749.88 412.80 L752.83 409.50 L752.83 404.30 L749.88 401.00 L745.75 401.00 L742.80 404.30 L742.80 409.50 L745.75 412.80M765.16 401.00 L758.56 401.00 L758.08 406.19 L760.21 405.48 L763.04 405.48 L765.40 407.61 L765.40 410.68 L763.28 412.80 L759.74 412.80 L757.85 411.03" fill="none" stroke="#a0a0a0" stroke-width="2.0" stroke-linecap="round" stroke-linejoin="round" shape-rendering="crispEdges"/>
<path d="M673.00 435.80 L673.00 424.00M686.26 425.89 L684.14 424.00 L681.31 424.00 L678.95 426.83 L678.95 433.44 L681.31 435.80 L684.38 435.80 L686.50 433.68 L686.50 430.84 L684.38 428.72 L681.31 428.72 L678.95 430.84" fill="none" stroke="#a0a0a0" stroke-width="2.0" stroke-linecap="round" stroke-linejoin="round" shape-rendering="crispEdges"/>
<path d="M745.75 435.80 L749.88 435.80 L752.83 432.50 L752.83 427.30 L749.88 424.00 L745.75 424.00 L742.80 427.30 L742.80 432.50 L745.75 435.80M765.16 425.89 L763.04 424.00 L760.21 424.00 L757.85 426.83 L757.85 433.44 L760.21 435.80 L763.28 435.80 L765.40 433.68 L765.40 430.84 L763.28 428.72 L760.21 428.72 L757.85 430.84" fill="none" stroke="#a0a0a0" stroke-width="2.0" stroke-linecap="round" stroke-linejoin="round" shape-rendering="crispEdges"/>
<path d="M673.00 459.80 L673.00 448.00M679.18 448.00 L686.50 448.00 L681.54 459.80" fill="none" stroke="#a0a0a0" stroke-width="2.0" stroke-linecap="round" stroke-linejoin="round" shape-rendering="crispEdges"/>
<path d="M745.75 459.80 L749.88 459.80 L752.83 456.50 L752.83 451.30 L749.88 448.00 L745.75 448.00 L742.80 451.30 L742.80 456.50 L745.75 459.80M758.08 448.00 L765.40 448.00 L760.44 459.80" fill="none" stroke="#a0a0a0" stroke-width="2.0" stroke-linecap="round" stroke-linejoin="round" shape-rendering="crispEdges"/>
<path d="M673.00 482.80 L673.00 471.00M681.31 476.55 L679.42 475.01 L679.42 472.65 L681.31 471.00 L684.14 471.00 L686.03 472.65 L686.03 475.01 L684.14 476.55 L681.31 476.55 L678.95 478.55 L678.95 480.91 L681.07 482.80 L684.38 482.80 L686.50 480.91 L686.50 478.55 L684.14 476.55" fill="none" stroke="#a0a0a0" stroke-width="2.0" stroke-linecap="round" stroke-linejoin="round" shape-rendering="crispEdges"/>
<path d="M745.75 482.80 L749.88 482.80 L752.83 479.50 L752.83 474.30 L749.88 471.00 L745.75 471.00 L742.80 474.30 L742.80 479.50 L745.75 482.80M760.21 476.55 L758.32 475.01 L758.32 472.65 L760.21 471.00 L763.04 471.00 L764.93 472.65 L764.93 475.01 L763.04 476.55 L760.21 476.55 L757.85 478.55 L757.85 480.91 L759.97 482.80 L763.28 482.80 L765.40 480.91 L765.40 478.55 L763.04 476.55" fill="none" stroke="#a0a0a0" stroke-width="2.0" stroke-linecap="round" stroke-linejoin="round" shape-rendering="crispEdges"/>
<path d="M682.88 496.95 L680.17 494.00 L675.45 494.00 L672.50 497.30 L672.50 502.50 L675.45 505.80 L680.17 505.80 L683.12 502.85 L683.12 500.84 L678.40 500.84M688.39 505.80 L688.39 494.00 L697.83 505.80 L697.83 494.00M703.10 505.80 L703.10 494.00 L709.00 494.00 L712.30 497.30 L712.30 502.50 L709.00 505.80 L703.10 505.80" fill="none" stroke="#a0a0a0" stroke-width="2.0" stroke-linecap="round" stroke-linejoin="round" shape-rendering="crispEdges"/>
<path d="M735.13 496.60 L732.65 494.00 L728.17 494.00 L725.10 497.30 L725.10 502.50 L728.17 505.80 L732.65 505.80 L735.13 503.20M740.24 505.80 L740.24 494.00 L745.54 505.80 L750.86 494.00 L750.86 505.80M755.96 505.80 L755.96 494.00 L765.40 505.80 L765.40 494.00" fill="none" stroke="#a0a0a0" stroke-width="2.0" stroke-linecap="round" stroke-linejoin="round" shape-rendering="crispEdges"/>
<path d="M637.46 300.50 L641.00 297.20 L641.00 309.00" fill="none" stroke="#a0a0a0" stroke-width="2.0" stroke-linecap="round" stroke-linejoin="round" shape-rendering="crispEdges"/>
<path d="M794.50 300.50 L798.04 297.20 L798.04 309.00M806.54 302.75 L804.65 301.21 L804.65 298.85 L806.54 297.20 L809.37 297.20 L811.26 298.85 L811.26 301.21 L809.37 302.75 L806.54 302.75 L804.18 304.75 L804.18 307.11 L806.30 309.00 L809.60 309.00 L811.73 307.11 L811.73 304.75 L809.37 302.75" fill="none" stroke="#a0a0a0" stroke-width="2.0" stroke-linecap="round" stroke-linejoin="round" shape-rendering="crispEdges"/>
<path d="M636.05 322.56 L638.41 320.20 L641.24 320.20 L643.60 322.56 L643.60 324.92 L636.05 332.00 L643.60 332.00" fill="none" stroke="#a0a0a0" stroke-width="2.0" stroke-linecap="round" stroke-linejoin="round" shape-rendering="crispEdges"/>
<path d="M794.50 323.50 L798.04 320.20 L798.04 332.00M804.18 320.20 L811.49 320.20 L806.54 332.00" fill="none" stroke="#a0a0a0" stroke-width="2.0" stroke-linecap="round" stroke-linejoin="round" shape-rendering="crispEdges"/>
<path d="M636.05 344.97 L637.94 343.20 L641.48 343.20 L643.60 345.09 L643.60 347.21 L641.48 348.86 L638.64 348.86M641.48 348.86 L643.60 350.52 L643.60 353.11 L641.48 355.00 L637.94 355.00 L636.05 353.23" fill="none" stroke="#a0a0a0" stroke-width="2.0" stroke-linecap="round" stroke-linejoin="round" shape-rendering="crispEdges"/>
<path d="M794.50 346.50 L798.04 343.20 L798.04 355.00M811.49 345.09 L809.37 343.20 L806.54 343.20 L804.18 346.03 L804.18 352.64 L806.54 355.00 L809.60 355.00 L811.73 352.88 L811.73 350.04 L809.60 347.92 L806.54 347.92 L804.18 350.04" fill="none" stroke="#a0a0a0" stroke-width="2.0" stroke-linecap="round" stroke-linejoin="round" shape-rendering="crispEdges"/>
<path d="M641.48 379.00 L641.48 367.20 L635.34 375.46 L643.60 375.46" fill="none" stroke="#a0a0a0" stroke-width="2.0" stroke-linecap="round" stroke-linejoin="round" shape-rendering="crispEdges"/>
<path d="M794.50 370.50 L798.04 367.20 L798.04 379.00M811.49 367.20 L804.88 367.20 L804.41 372.39 L806.54 371.68 L809.37 371.68 L811.73 373.81 L811.73 376.88 L809.60 379.00 L806.06 379.00 L804.18 377.23" fill="none" stroke="#a0a0a0" stroke-width="2.0" stroke-linecap="round" stroke-linejoin="round" shape-rendering="crispEdges"/>
<path d="M643.36 390.20 L636.76 390.20 L636.28 395.39 L638.41 394.68 L641.24 394.68 L643.60 396.81 L643.60 399.88 L641.48 402.00 L637.94 402.00 L636.05 400.23" fill="none" stroke="#a0a0a0" stroke-width="2.0" stroke-linecap="round" stroke-linejoin="round" shape-rendering="crispEdges"/>
<path d="M794.50 393.50 L798.04 390.20 L798.04 402.00M810.31 402.00 L810.31 390.20 L804.18 398.46 L812.44 398.46" fill="none" stroke="#a0a0a0" stroke-width="2.0" stroke-linecap="round" stroke-linejoin="round" shape-rendering="crispEdges"/>
<path d="M643.36 415.09 L641.24 413.20 L638.41 413.20 L636.05 416.03 L636.05 422.64 L638.41 425.00 L641.48 425.00 L643.60 422.88 L643.60 420.04 L641.48 417.92 L638.41 417.92 L636.05 420.04" fill="none" stroke="#a0a0a0" stroke-width="2.0" stroke-linecap="round" stroke-linejoin="round" shape-rendering="crispEdges"/>
<path d="M794.50 416.50 L798.04 413.20 L798.04 425.00M804.18 414.97 L806.06 413.20 L809.60 413.20 L811.73 415.09 L811.73 417.21 L809.60 418.86 L806.77 418.86M809.60 418.86 L811.73 420.52 L811.73 423.11 L809.60 425.00 L806.06 425.00 L804.18 423.23" fill="none" stroke="#a0a0a0" stroke-width="2.0" stroke-linecap="round" stroke-linejoin="round" shape-rendering="crispEdges"/>
<path d="M636.28 437.20 L643.60 437.20 L638.64 449.00" fill="none" stroke="#a0a0a0" stroke-width="2.0" stroke-linecap="round" stroke-linejoin="round" shape-rendering="crispEdges"/>
<path d="M794.50 440.50 L798.04 437.20 L798.04 449.00M804.18 439.56 L806.54 437.20 L809.37 437.20 L811.73 439.56 L811.73 441.92 L804.18 449.00 L811.73 449.00" fill="none" stroke="#a0a0a0" stroke-width="2.0" stroke-linecap="round" stroke-linejoin="round" shape-rendering="crispEdges"/>
<path d="M638.41 465.75 L636.52 464.21 L636.52 461.85 L638.41 460.20 L641.24 460.20 L643.13 461.85 L643.13 464.21 L641.24 465.75 L638.41 465.75 L636.05 467.75 L636.05 470.11 L638.17 472.00 L641.48 472.00 L643.60 470.11 L643.60 467.75 L641.24 465.75" fill="none" stroke="#a0a0a0" stroke-width="2.0" stroke-linecap="round" stroke-linejoin="round" shape-rendering="crispEdges"/>
<path d="M794.50 463.50 L798.04 460.20 L798.04 472.00M804.18 463.50 L807.72 460.20 L807.72 472.00" fill="none" stroke="#a0a0a0" stroke-width="2.0" stroke-linecap="round" stroke-linejoin="round" shape-rendering="crispEdges"/>
<path d="M636.28 493.11 L638.41 495.00 L641.24 495.00 L643.60 492.17 L643.60 485.56 L641.24 483.20 L638.17 483.20 L636.05 485.32 L636.05 488.16 L638.17 490.28 L641.24 490.28 L643.60 488.16" fill="none" stroke="#a0a0a0" stroke-width="2.0" stroke-linecap="round" stroke-linejoin="round" shape-rendering="crispEdges"/>
<path d="M794.50 486.50 L798.04 483.20 L798.04 495.00M806.30 495.00 L808.90 495.00 L811.02 492.64 L811.02 485.56 L808.90 483.20 L806.30 483.20 L804.18 485.56 L804.18 492.64 L806.30 495.00" fill="none" stroke="#a0a0a0" stroke-width="2.0" stroke-linecap="round" stroke-linejoin="round" shape-rendering="crispEdges"/>
<path d="M138.88 519.70 L138.88 507.90 L132.74 516.16 L141.00 516.16" fill="none" stroke="#a0a0a0" stroke-width="2.0" stroke-linecap="round" stroke-linejoin="round" shape-rendering="crispEdges"/>
<path d="M133.45 532.67 L135.34 530.90 L138.88 530.90 L141.00 532.79 L141.00 534.91 L138.88 536.56 L136.04 536.56M138.88 536.56 L141.00 538.22 L141.00 540.81 L138.88 542.70 L135.34 542.70 L133.45 540.93" fill="none" stroke="#a0a0a0" stroke-width="2.0" stroke-linecap="round" stroke-linejoin="round" shape-rendering="crispEdges"/>
<path d="M133.45 557.26 L135.81 554.90 L138.64 554.90 L141.00 557.26 L141.00 559.62 L133.45 566.70 L141.00 566.70" fill="none" stroke="#a0a0a0" stroke-width="2.0" stroke-linecap="round" stroke-linejoin="round" shape-rendering="crispEdges"/>
<path d="M134.86 581.20 L138.40 577.90 L138.40 589.70" fill="none" stroke="#a0a0a0" stroke-width="2.0" stroke-linecap="round" stroke-linejoin="round" shape-rendering="crispEdges"/>
<path d="M945.86 207.20 L949.40 203.90 L949.40 215.70" fill="none" stroke="#a0a0a0" stroke-width="2.0" stroke-linecap="round" stroke-linejoin="round" shape-rendering="crispEdges"/>
<path d="M944.45 230.26 L946.81 227.90 L949.64 227.90 L952.00 230.26 L952.00 232.62 L944.45 239.70 L952.00 239.70" fill="none" stroke="#a0a0a0" stroke-width="2.0" stroke-linecap="round" stroke-linejoin="round" shape-rendering="crispEdges"/>
<path d="M944.45 252.67 L946.34 250.90 L949.88 250.90 L952.00 252.79 L952.00 254.91 L949.88 256.56 L947.04 256.56M949.88 256.56 L952.00 258.22 L952.00 260.81 L949.88 262.70 L946.34 262.70 L944.45 260.93" fill="none" stroke="#a0a0a0" stroke-width="2.0" stroke-linecap="round" stroke-linejoin="round" shape-rendering="crispEdges"/>
<path d="M949.88 285.70 L949.88 273.90 L943.74 282.16 L952.00 282.16" fill="none" stroke="#a0a0a0" stroke-width="2.0" stroke-linecap="round" stroke-linejoin="round" shape-rendering="crispEdges"/>
<path d="M951.76 297.90 L945.16 297.90 L944.68 303.09 L946.81 302.38 L949.64 302.38 L952.00 304.51 L952.00 307.58 L949.88 309.70 L946.34 309.70 L944.45 307.93" fill="none" stroke="#a0a0a0" stroke-width="2.0" stroke-linecap="round" stroke-linejoin="round" shape-rendering="crispEdges"/>
<path d="M945.86 394.20 L949.40 390.90 L949.40 402.70" fill="none" stroke="#a0a0a0" stroke-width="2.0" stroke-linecap="round" stroke-linejoin="round" shape-rendering="crispEdges"/>
<path d="M944.45 416.26 L946.81 413.90 L949.64 413.90 L952.00 416.26 L952.00 418.62 L944.45 425.70 L952.00 425.70" fill="none" stroke="#a0a0a0" stroke-width="2.0" stroke-linecap="round" stroke-linejoin="round" shape-rendering="crispEdges"/>
<path d="M944.45 439.67 L946.34 437.90 L949.88 437.90 L952.00 439.79 L952.00 441.91 L949.88 443.56 L947.04 443.56M949.88 443.56 L952.00 445.22 L952.00 447.81 L949.88 449.70 L946.34 449.70 L944.45 447.93" fill="none" stroke="#a0a0a0" stroke-width="2.0" stroke-linecap="round" stroke-linejoin="round" shape-rendering="crispEdges"/>
<path d="M949.88 472.70 L949.88 460.90 L943.74 469.16 L952.00 469.16" fill="none" stroke="#a0a0a0" stroke-width="2.0" stroke-linecap="round" stroke-linejoin="round" shape-rendering="crispEdges"/>
<path d="M951.76 483.90 L945.16 483.90 L944.68 489.09 L946.81 488.38 L949.64 488.38 L952.00 490.51 L952.00 493.58 L949.88 495.70 L946.34 495.70 L944.45 493.93" fill="none" stroke="#a0a0a0" stroke-width="2.0" stroke-linecap="round" stroke-linejoin="round" shape-rendering="crispEdges"/>
<path d="M230.00 94.83 L238.82 94.83M234.41 99.24 L234.41 90.42M251.21 86.30 L242.97 86.30 L242.39 92.77 L245.03 91.89 L248.56 91.89 L251.50 94.53 L251.50 98.35 L248.85 101.00 L244.44 101.00 L242.09 98.80M254.77 86.30 L261.38 101.00 L268.00 86.30" fill="none" stroke="#a0a0a0" stroke-width="2.0" stroke-linecap="round" stroke-linejoin="round" shape-rendering="crispEdges"/>
<path d="M534.00 539.83 L542.82 539.83M538.41 544.24 L538.41 535.42M555.21 531.30 L546.97 531.30 L546.38 537.77 L549.03 536.89 L552.56 536.89 L555.50 539.53 L555.50 543.35 L552.85 546.00 L548.44 546.00 L546.09 543.79M558.77 531.30 L565.38 546.00 L572.00 531.30" fill="none" stroke="#a0a0a0" stroke-width="2.0" stroke-linecap="round" stroke-linejoin="round" shape-rendering="crispEdges"/>
<path d="M450.00 281.80 L450.00 267.10M468.04 270.33 L464.96 267.10 L459.37 267.10 L455.55 271.22 L455.55 277.68 L459.37 281.80 L464.96 281.80 L468.04 278.57M473.59 269.31 L475.94 267.10 L480.35 267.10 L483.00 269.45 L483.00 272.10 L480.35 274.16 L476.83 274.16M480.35 274.16 L483.00 276.21 L483.00 279.45 L480.35 281.80 L475.94 281.80 L473.59 279.60" fill="none" stroke="#a0a0a0" stroke-width="2.0" stroke-linecap="round" stroke-linejoin="round" shape-rendering="crispEdges"/>
<path d="M300.80 662.80 L300.80 648.10 L307.42 662.80 L314.03 648.10 L314.03 662.80M331.36 651.33 L328.27 648.10 L322.69 648.10 L318.86 652.22 L318.86 658.68 L322.69 662.80 L328.27 662.80 L331.36 659.57M336.19 662.80 L336.19 648.10 L343.84 648.10 L346.19 650.45 L346.19 653.98 L343.84 656.48 L336.19 656.48M351.02 651.04 L353.96 648.10 L357.49 648.10 L360.43 651.04 L360.43 653.98 L351.02 662.80 L360.43 662.80M365.27 650.30 L367.62 648.10 L372.03 648.10 L374.68 650.45 L374.68 653.10 L372.03 655.16 L368.50 655.16M372.03 655.16 L374.68 657.21 L374.68 660.45 L372.03 662.80 L367.62 662.80 L365.27 660.59M382.16 662.80 L385.39 662.80 L388.04 659.86 L388.04 651.04 L385.39 648.10 L382.16 648.10 L379.51 651.04 L379.51 659.86 L382.16 662.80M392.87 652.22 L397.28 648.10 L397.28 662.80M405.35 648.10 L414.46 648.10 L408.29 662.80M429.00 648.10 L419.30 648.10 L419.30 662.80 L429.00 662.80M419.30 655.01 L428.12 655.01M433.83 662.80 L438.24 648.10M453.08 651.04 L450.43 648.10 L446.02 648.10 L443.37 650.75 L443.37 653.10 L446.02 655.16 L450.43 655.74 L453.37 658.10 L453.37 660.45 L450.72 662.80 L445.73 662.80 L443.08 659.86M458.20 662.80 L458.20 648.10 L465.85 648.10 L468.20 650.45 L468.20 653.98 L465.85 656.48 L458.20 656.48" fill="none" stroke="#a0a0a0" stroke-width="2.0" stroke-linecap="round" stroke-linejoin="round" shape-rendering="crispEdges"/>
<path d="M662.80 244.20 L673.38 244.20M668.09 244.20 L668.09 258.90M677.63 258.90 L677.63 244.20 L684.98 244.20 L689.10 248.32 L689.10 254.78 L684.98 258.90 L677.63 258.90M702.46 246.55 L699.81 244.20 L696.28 244.20 L693.34 247.73 L693.34 255.96 L696.28 258.90 L700.10 258.90 L702.75 256.25 L702.75 252.73 L700.10 250.08 L696.28 250.08 L693.34 252.73M707.00 247.14 L709.94 244.20 L713.46 244.20 L716.40 247.14 L716.40 250.08 L707.00 258.90 L716.40 258.90M723.29 258.90 L726.53 258.90 L729.17 255.96 L729.17 247.14 L726.53 244.20 L723.29 244.20 L720.65 247.14 L720.65 255.96 L723.29 258.90M736.36 251.11 L734.01 249.20 L734.01 246.26 L736.36 244.20 L739.89 244.20 L742.24 246.26 L742.24 249.20 L739.89 251.11 L736.36 251.11 L733.42 253.61 L733.42 256.55 L736.07 258.90 L740.18 258.90 L742.83 256.55 L742.83 253.61 L739.89 251.11M747.07 246.40 L749.43 244.20 L753.84 244.20 L756.48 246.55 L756.48 249.20 L753.84 251.26 L750.31 251.26M753.84 251.26 L756.48 253.31 L756.48 256.55 L753.84 258.90 L749.43 258.90 L747.07 256.69M760.73 258.90 L767.34 244.20 L773.96 258.90M763.08 254.05 L771.61 254.05M778.20 258.90 L778.20 244.20 L785.85 244.20 L788.20 246.55 L788.20 250.08 L785.85 252.58 L778.20 252.58" fill="none" stroke="#a0a0a0" stroke-width="2.0" stroke-linecap="round" stroke-linejoin="round" shape-rendering="crispEdges"/>
<path d="M663.90 281.80 L663.90 267.10M681.59 270.33 L678.51 267.10 L672.92 267.10 L669.10 271.22 L669.10 277.68 L672.92 281.80 L678.51 281.80 L681.59 278.57M686.79 270.04 L689.73 267.10 L693.26 267.10 L696.20 270.04 L696.20 272.98 L686.79 281.80 L696.20 281.80" fill="none" stroke="#a0a0a0" stroke-width="2.0" stroke-linecap="round" stroke-linejoin="round" shape-rendering="crispEdges"/>
<path d="M135.59 632.43 L132.51 629.20 L126.92 629.20 L123.10 633.32 L123.10 639.78 L126.92 643.90 L132.51 643.90 L135.59 640.67M141.71 643.90 L141.71 629.20 L153.47 643.90 L153.47 629.20M159.59 633.32 L164.00 629.20 L164.00 643.90" fill="none" stroke="#a0a0a0" stroke-width="2.0" stroke-linecap="round" stroke-linejoin="round" shape-rendering="crispEdges"/>
<path d="M932.29 172.43 L929.21 169.20 L923.62 169.20 L919.80 173.32 L919.80 179.78 L923.62 183.90 L929.21 183.90 L932.29 180.67M937.56 183.90 L937.56 169.20 L949.32 183.90 L949.32 169.20M954.59 172.14 L957.53 169.20 L961.06 169.20 L964.00 172.14 L964.00 175.08 L954.59 183.90 L964.00 183.90" fill="none" stroke="#a0a0a0" stroke-width="2.0" stroke-linecap="round" stroke-linejoin="round" shape-rendering="crispEdges"/>
<path d="M932.29 359.33 L929.21 356.10 L923.62 356.10 L919.80 360.22 L919.80 366.68 L923.62 370.80 L929.21 370.80 L932.29 367.57M937.56 370.80 L937.56 356.10 L949.32 370.80 L949.32 356.10M954.59 358.31 L956.94 356.10 L961.35 356.10 L964.00 358.45 L964.00 361.10 L961.35 363.16 L957.83 363.16M961.35 363.16 L964.00 365.21 L964.00 368.45 L961.35 370.80 L956.94 370.80 L954.59 368.60" fill="none" stroke="#a0a0a0" stroke-width="2.0" stroke-linecap="round" stroke-linejoin="round" shape-rendering="crispEdges"/>
<path d="M226.14 727.88 L222.75 724.20 L216.88 724.20 L213.20 728.32 L213.20 734.78 L216.88 738.90 L222.75 738.90 L226.43 735.23 L226.43 732.73 L220.55 732.73M233.05 738.90 L233.05 724.20 L244.81 738.90 L244.81 724.20M251.43 738.90 L251.43 724.20 L258.78 724.20 L262.90 728.32 L262.90 734.78 L258.78 738.90 L251.43 738.90" fill="none" stroke="#a0a0a0" stroke-width="2.0" stroke-linecap="round" stroke-linejoin="round" shape-rendering="crispEdges"/>
<path d="M575.74 680.88 L572.35 677.20 L566.47 677.20 L562.80 681.32 L562.80 687.78 L566.47 691.90 L572.35 691.90 L576.03 688.23 L576.03 685.73 L570.15 685.73M583.10 691.90 L583.10 677.20 L594.86 691.90 L594.86 677.20M601.93 691.90 L601.93 677.20 L609.28 677.20 L613.40 681.32 L613.40 687.78 L609.28 691.90 L601.93 691.90" fill="none" stroke="#a0a0a0" stroke-width="2.0" stroke-linecap="round" stroke-linejoin="round" shape-rendering="crispEdges"/>
<path d="M687.90 556.87 L685.59 554.45 L681.41 554.45 L678.55 557.53 L678.55 562.37 L681.41 565.45 L685.59 565.45 L687.90 563.03M693.51 557.53 L696.15 554.45 L696.15 565.45" fill="none" stroke="#a0a0a0" stroke-width="1.1" stroke-linecap="round" stroke-linejoin="round" shape-rendering="crispEdges"/>
<path d="M731.35 578.53 L733.99 575.45 L733.99 586.45M741.29 586.45 L743.23 586.45 L744.81 584.25 L744.81 577.65 L743.23 575.45 L741.29 575.45 L739.71 577.65 L739.71 584.25 L741.29 586.45M748.59 578.53 L748.59 585.13 L749.91 586.45 L752.11 586.45 L753.65 584.91M753.65 578.53 L753.65 586.45" fill="none" stroke="#a0a0a0" stroke-width="1.1" stroke-linecap="round" stroke-linejoin="round" shape-rendering="crispEdges"/>
<path transform="translate(222.45 493.80) rotate(-90)" d="M9.90 -8.58 L7.59 -11.00 L3.41 -11.00 L0.55 -7.92 L0.55 -3.08 L3.41 0.00 L7.59 0.00 L9.90 -2.42M12.82 -8.80 L14.58 -11.00 L16.69 -11.00 L18.45 -8.80 L18.45 -6.60 L12.82 0.00 L18.45 0.00" fill="none" stroke="#a0a0a0" stroke-width="1.1" stroke-linecap="round" stroke-linejoin="round" shape-rendering="crispEdges"/>
<path transform="translate(243.25 441.70) rotate(-90)" d="M2.13 0.00 L4.07 0.00 L5.65 -2.20 L5.65 -8.80 L4.07 -11.00 L2.13 -11.00 L0.55 -8.80 L0.55 -2.20 L2.13 0.00M10.23 0.00 L10.23 -0.22M14.81 -7.92 L17.45 -11.00 L17.45 0.00" fill="none" stroke="#a0a0a0" stroke-width="1.1" stroke-linecap="round" stroke-linejoin="round" shape-rendering="crispEdges"/>
<path transform="translate(744.45 666.30) rotate(-90)" d="M9.90 -8.58 L7.59 -11.00 L3.41 -11.00 L0.55 -7.92 L0.55 -3.08 L3.41 0.00 L7.59 0.00 L9.90 -2.42M13.42 -9.35 L14.83 -11.00 L17.47 -11.00 L19.05 -9.24 L19.05 -7.26 L17.47 -5.72 L15.35 -5.72M17.47 -5.72 L19.05 -4.18 L19.05 -1.76 L17.47 0.00 L14.83 0.00 L13.42 -1.65" fill="none" stroke="#a0a0a0" stroke-width="1.1" stroke-linecap="round" stroke-linejoin="round" shape-rendering="crispEdges"/>
<path transform="translate(716.65 725.30) rotate(-90)" d="M5.13 0.00 L5.13 -11.00 L0.55 -3.30 L6.71 -3.30M9.76 -11.00 L15.22 -11.00 L11.52 0.00M19.86 0.00 L21.79 0.00 L23.38 -2.20 L23.38 -8.80 L21.79 -11.00 L19.86 -11.00 L18.27 -8.80 L18.27 -2.20 L19.86 0.00M26.43 -7.92 L26.43 -1.32 L27.75 0.00 L29.95 0.00 L31.49 -1.54M31.49 -7.92 L31.49 0.00M41.37 -11.00 L34.55 -11.00 L34.55 0.00M34.55 -5.83 L40.60 -5.83M44.42 0.00 L47.72 -11.00M50.78 -8.80 L52.54 -11.00 L54.65 -11.00 L56.41 -8.80 L56.41 -6.60 L50.78 0.00 L56.41 0.00M64.92 -11.00 L59.99 -11.00 L59.64 -6.16 L61.22 -6.82 L63.34 -6.82 L65.10 -4.84 L65.10 -1.98 L63.51 0.00 L60.87 0.00 L59.46 -1.65M68.15 -11.00 L73.10 0.00 L78.05 -11.00" fill="none" stroke="#a0a0a0" stroke-width="1.1" stroke-linecap="round" stroke-linejoin="round" shape-rendering="crispEdges"/>
</svg></body></html>
